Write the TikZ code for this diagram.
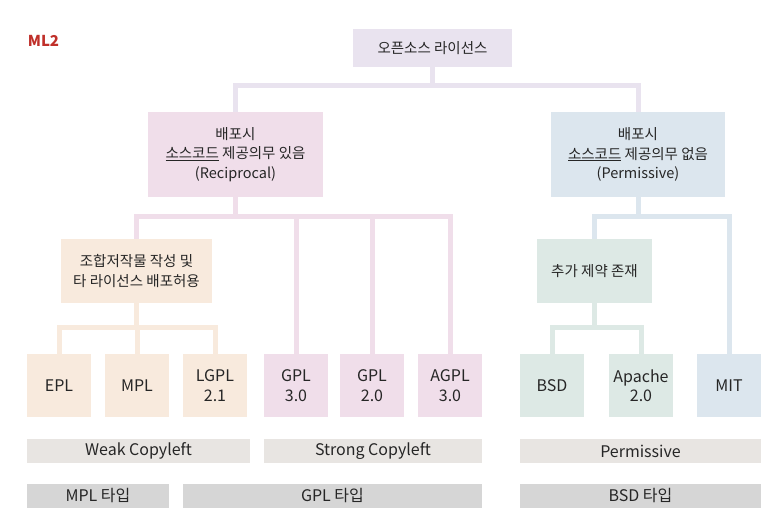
\documentclass[tikz,border=0pt]{standalone}
\usepackage{fontspec}
\setmainfont{Noto Sans CJK KR}
\usetikzlibrary{positioning}
\definecolor{lavbox}{HTML}{E9E3EF}
\definecolor{pinkbox}{HTML}{F0DEEA}
\definecolor{peachbox}{HTML}{F8EADD}
\definecolor{mintbox}{HTML}{DDE9E5}
\definecolor{bluebox}{HTML}{DCE6EE}
\definecolor{groupbar}{HTML}{E8E5E2}
\definecolor{typebar}{HTML}{D6D6D6}
\definecolor{txt}{HTML}{262626}
\definecolor{mlred}{HTML}{C0302A}

\begin{document}
\begin{tikzpicture}[x=1pt, y=-1pt,
    box/.style={rectangle, inner sep=0pt, align=center, text=txt,
      font=\fontsize{14.5}{19.5}\selectfont},
    leaf/.style={box, minimum width=64pt, minimum height=63pt,
      font=\fontsize{16}{19.5}\selectfont},
    bar/.style={box, minimum height=24pt, font=\fontsize{16}{19.5}\selectfont},
    wire/.style={line width=5pt}]
  \useasboundingbox[fill=white] (0,0) rectangle (778,518);
  \node[font=\fontsize{15}{17}\selectfont\bfseries, text=mlred] (ml) at (43.5,41) {ML2};
  \node[box, fill=lavbox, minimum width=159pt, minimum height=38pt] (root) at (432.5,48) {오픈소스 라이선스};
  \node[box, fill=pinkbox, minimum width=175pt, minimum height=85pt] (recip) at (235.5,154.5)
    {배포시\\\underline{소스코드} 제공의무 있음\\(Reciprocal)};
  \node[box, fill=bluebox, minimum width=174pt, minimum height=85pt] (perm) at (638,154.5)
    {배포시\\\underline{소스코드} 제공의무 없음\\(Permissive)};
  \node[box, fill=peachbox, minimum width=151pt, minimum height=64pt] (combo) at (136.5,271)
    {조합저작물 작성 및\\타 라이선스 배포허용};
  \node[box, fill=mintbox, minimum width=115pt, minimum height=64pt] (extra) at (594.5,271)
    {추가 제약 존재};
  \node[leaf, fill=peachbox] (epl) at (59,385.5) {EPL};
  \node[leaf, fill=peachbox] (mpl) at (137,385.5) {MPL};
  \node[leaf, fill=peachbox] (lgpl) at (215,385.5) {LGPL\\2.1};
  \node[leaf, fill=pinkbox] (gplthree) at (296,385.5) {GPL\\3.0};
  \node[leaf, fill=pinkbox] (gpltwo) at (372,385.5) {GPL\\2.0};
  \node[leaf, fill=pinkbox] (agpl) at (450,385.5) {AGPL\\3.0};
  \node[leaf, fill=mintbox] (bsd) at (552,385.5) {BSD};
  \node[leaf, fill=mintbox] (apache) at (641,385.5) {Apache\\2.0};
  \node[leaf, fill=bluebox] (mit) at (729,385.5) {MIT};
  \node[bar, fill=groupbar, minimum width=223pt] (weak) at (138.5,451) {Weak Copyleft};
  \node[bar, fill=groupbar, minimum width=218pt] (strong) at (373,451) {Strong Copyleft};
  \node[bar, fill=groupbar, minimum width=241pt] (permbar) at (640.5,451) {Permissive};
  \node[bar, fill=typebar, minimum width=142pt] (mpltype) at (98,496) {MPL 타입};
  \node[bar, fill=typebar, minimum width=299pt] (gpltype) at (332.5,496) {GPL 타입};
  \node[bar, fill=typebar, minimum width=241pt] (bsdtype) at (640.5,496) {BSD 타입};
  \foreach \n in {recip,perm}
    \draw[wire, lavbox] (root.south) -- ++(0,18.5) -| (\n.north);
  \foreach \n in {combo,gplthree,gpltwo,agpl}
    \draw[wire, pinkbox] (recip.south) -- ++(0,19) -| (\n.north);
  \foreach \n in {epl,mpl,lgpl}
    \draw[wire, peachbox] (combo.south) -- ++(0,24) -| (\n.north);
  \foreach \n in {extra,mit}
    \draw[wire, bluebox] (perm.south) -- ++(0,19) -| (\n.north);
  \foreach \n in {bsd,apache}
    \draw[wire, mintbox] (extra.south) -- ++(0,24) -| (\n.north);
\end{tikzpicture}
\end{document}
